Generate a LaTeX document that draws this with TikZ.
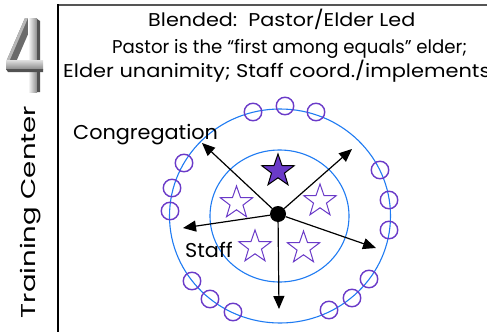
\documentclass[tikz,border=0pt]{standalone}
\usepackage{fontspec}
\setmainfont{Poppins}
\usetikzlibrary{arrows.meta,shapes.geometric}
\definecolor{ringblue}{HTML}{1F7BF2}
\definecolor{purp}{HTML}{6A3AC8}
\definecolor{framegray}{HTML}{555555}
\begin{document}
\begin{tikzpicture}[x=1pt,y=-1pt,
  ring/.style={draw=ringblue,line width=1.1pt},
  smallc/.style={circle,draw=purp,line width=1.4pt,minimum size=17.5pt,inner sep=0pt},
  ostar/.style={star,star points=5,star point ratio=2.5,draw=purp,fill=white,line width=1pt,minimum size=34pt,inner sep=0pt},
  fstar/.style={star,star points=5,star point ratio=2.5,draw=black,fill=purp,line width=1pt,minimum size=34pt,inner sep=0pt},
  hub/.style={circle,fill=black,minimum size=16pt,inner sep=0pt},
  spoke/.style={line width=1.2pt,-{Triangle[length=13pt,width=11pt]}},
  txtlbl/.style={font=\fontsize{20}{24}\selectfont,inner sep=0pt},
  ttl/.style={font=\fontsize{18.5}{22}\selectfont,inner sep=0pt,anchor=base west}
]
\useasboundingbox (0,0) rectangle (487,332);
% frame
\draw[framegray,line width=2pt] (57,4.5) -- (487,4.5);
\draw[black,line width=1.3pt] (58,4) -- (58,332);
% logo 4
\fill[black!58] (25,18) -- (35,18) -- (16,62) -- (6,62) -- cycle;
\fill[black!28] (25,18) -- (28,18) -- (9,62) -- (6,62) -- cycle;
\shade[left color=white,right color=black!45] (28,18) rectangle (37,92);
\fill[black!68] (37,19) -- (40,21) -- (40,92) -- (37,92) -- cycle;
\shade[top color=black!12,bottom color=black!45] (6,60) rectangle (43,69);
\fill[black!68] (6,69) -- (43,69) -- (43,72) -- (8,72) -- cycle;
% text
\node[ttl] (t1) at (148,27) {\scalebox{1.12}[1]{Blended:\ \ Pastor/Elder Led}};
\node[ttl] (t2) at (112,53) {\scalebox{0.98}[1]{Pastor is the “first among equals” elder;}};
\node[ttl] (t3) at (63,77) {\scalebox{1.13}[1]{Elder unanimity; Staff coord./implements}};
\node[txtlbl,rotate=90,anchor=base] (tc) at (35,212) {\scalebox{1.38}[1]{Training Center}};
% rings
\draw[ring] (280,216) ellipse [x radius=110.5, y radius=107];
\draw[ring] (279.5,216) ellipse [x radius=69.5, y radius=66];
% small circles
\foreach \p [count=\i] in {(253,112),(285,106),(316,112),(184,163),(172,188),(170,211),(380,170),(389,200),(389,230),(192,281),(210,299),(233,312),(329,310),(352,298),(369,279)}
  \node[smallc] (s\i) at \p {};
% stars
\node[fstar] (lead) at (278,171) {};
\node[ostar] (st1) at (236.5,203) {};
\node[ostar] (st2) at (320,201) {};
\node[ostar] (st3) at (255,247) {};
\node[ostar] (st4) at (303.5,248) {};
% labels
\node[txtlbl,anchor=base west] (cong) at (73,139) {\scalebox{1.04}[1]{Congregation}};
\node[txtlbl,anchor=base west] (staff) at (185,257) {\scalebox{1.04}[1]{Staff}};
% hub and spokes
\node[hub] (c) at (278,214) {};
\coordinate (e1) at (202,143);
\coordinate (e2) at (352,149);
\coordinate (e3) at (183,228);
\coordinate (e4) at (376,248);
\coordinate (e5) at (279,309);
\foreach \e in {e1,e2,e3,e4,e5}
  \draw[spoke] (c) -- (\e);
\end{tikzpicture}
\end{document}
